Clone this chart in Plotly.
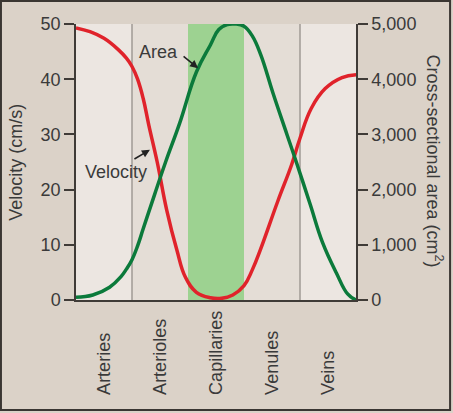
import plotly.graph_objects as go

# section positions along the vessel path (one unit per vessel type)
vessels = ["Arteries", "Arterioles", "Capillaries", "Venules", "Veins"]
vessel_centers = [0.5, 1.5, 2.5, 3.5, 4.5]

# velocity of blood flow (cm/s)
vel_x = [0.0, 0.25, 0.5, 0.75, 0.9, 1.0, 1.1, 1.2, 1.3, 1.45, 1.62, 1.8, 1.95, 2.15, 2.4,
         2.6, 2.8, 3.0, 3.15, 3.3, 3.6, 3.85, 4.0, 4.2, 4.45, 4.75, 5.0]
vel_y = [49.3, 48.6, 47.4, 45.4, 43.8, 42.3, 40.0, 36.5, 31.7, 25.0, 16.3, 9.1, 4.2, 1.4, 0.4,
         0.3, 0.9, 2.6, 5.5, 9.3, 17.8, 24.5, 29.3, 34.7, 38.3, 40.3, 40.8]

# total cross-sectional area (cm^2)
area_x = [0.0, 0.3, 0.6, 0.8, 0.9, 1.0, 1.1, 1.2, 1.4, 1.6, 1.85, 2.15, 2.4, 2.55, 2.7, 2.84,
          3.0, 3.15, 3.3, 3.52, 3.77, 3.95, 4.18, 4.4, 4.65, 4.85, 5.0]
area_y = [50, 90, 230, 420, 560, 730, 980, 1290, 1900, 2500, 3200, 4130, 4620, 4900, 4990, 5000,
          4960, 4780, 4440, 3740, 2990, 2450, 1740, 1050, 490, 110, 0]

vel_ticks = [0, 10, 20, 30, 40, 50]
area_ticks = [0, 1000, 2000, 3000, 4000, 5000]

FONT = "Liberation Sans, Arial, sans-serif"
TXT = "#3a3a3a"

fig = go.Figure()
fig.add_trace(go.Scatter(x=vel_x, y=vel_y, mode="lines",
                         line=dict(color="#e0232b", width=3.5, shape="spline", smoothing=1.2),
                         yaxis="y"))
fig.add_trace(go.Scatter(x=area_x, y=area_y, mode="lines",
                         line=dict(color="#0b7a3b", width=3.5, shape="spline", smoothing=1.2),
                         yaxis="y2"))

# section backgrounds
section_fill = ["#ece6e1", "#e4ddd6", "#9dd291", "#e4ddd6", "#ece6e1"]
shapes = []
for i, c in enumerate(section_fill):
    shapes.append(dict(type="rect", xref="x", yref="paper", x0=i, x1=i + 1, y0=0, y1=1,
                       fillcolor=c, line_width=0, layer="below"))
for xs in [1, 4]:
    shapes.append(dict(type="line", xref="x", yref="paper", x0=xs, x1=xs, y0=0, y1=1,
                       line=dict(color="#a09a94", width=1.5), layer="below"))
# outer frame
shapes.append(dict(type="rect", xref="paper", yref="paper", x0=-0.268, x1=1.336,
                   y0=-0.399, y1=1.083, line=dict(color="#3a3632", width=2)))

annotations = []
for name, cx in zip(vessels, vessel_centers):
    annotations.append(dict(x=cx, y=-0.351, xref="x", yref="paper", text=name,
                            textangle=-90, showarrow=False, xanchor="center", yanchor="bottom",
                            font=dict(family=FONT, size=18, color=TXT)))
annotations += [
    dict(x=-0.215, y=0.5, xref="paper", yref="paper", text="Velocity (cm/s)", textangle=-90,
         showarrow=False, xanchor="center", yanchor="middle",
         font=dict(family=FONT, size=18, color=TXT)),
    dict(x=1.279, y=0.505, xref="paper", yref="paper", text="Cross-sectional area (cm<sup>2</sup>)",
         textangle=90, showarrow=False, xanchor="center", yanchor="middle",
         font=dict(family=FONT, size=18, color=TXT)),
    dict(x=1.48, y=44.9, xref="x", yref="y", text="Area", showarrow=False,
         font=dict(family=FONT, size=18, color=TXT)),
    dict(x=0.71, y=23.2, xref="x", yref="y", text="Velocity", showarrow=False,
         font=dict(family=FONT, size=18, color=TXT)),
    dict(x=2.18, y=42.0, xref="x", yref="y", text="", showarrow=True, ax=-16, ay=-13,
         arrowhead=2, arrowsize=1, arrowwidth=1.6, arrowcolor="#222", standoff=0),
    dict(x=1.32, y=27.2, xref="x", yref="y", text="", showarrow=True, ax=-17, ay=10,
         arrowhead=2, arrowsize=1, arrowwidth=1.6, arrowcolor="#222", standoff=0),
]

axis_font = dict(family=FONT, size=18, color=TXT)
fig.update_layout(
    width=453, height=413,
    margin=dict(l=76, r=97, t=24, b=113),
    paper_bgcolor="#dbd2c8", plot_bgcolor="#ece6e1",
    showlegend=False,
    xaxis=dict(range=[0, 5], showticklabels=False, ticks="", showgrid=False, zeroline=False,
               showline=True, linecolor="#3f3b37", linewidth=1.5, automargin=False),
    yaxis=dict(range=[0, 50], tickvals=vel_ticks, ticks="outside", ticklen=10, tickwidth=1.5,
               tickcolor="#3f3b37", showgrid=False, zeroline=False, showline=True,
               linecolor="#3f3b37", linewidth=1.5, tickfont=axis_font, automargin=False),
    yaxis2=dict(range=[0, 5000], tickvals=area_ticks, tickformat=",", overlaying="y",
                side="right", ticks="outside", ticklen=10, tickwidth=1.5, tickcolor="#3f3b37",
                showgrid=False, zeroline=False, showline=True, linecolor="#3f3b37",
                linewidth=1.5, tickfont=axis_font, automargin=False),
    shapes=shapes,
    annotations=annotations,
)

# the page's default body margin would shift the figure
fig.write_html("out.html", config={"displayModeBar": False},
               post_script="document.body.style.margin='0px';")
